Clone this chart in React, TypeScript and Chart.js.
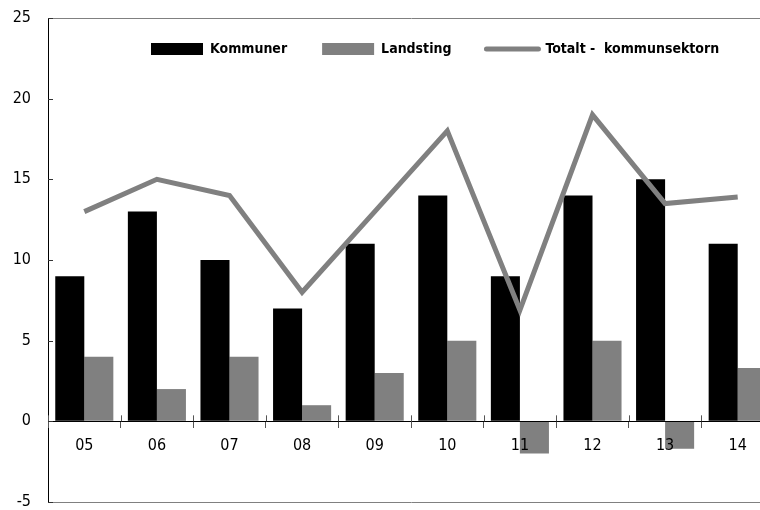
import React, { useEffect, useRef } from 'react';
import { Chart, registerables } from 'chart.js';

Chart.register(...registerables);

const categories = ['05', '06', '07', '08', '09', '10', '11', '12', '13', '14'];
const kommuner = [9, 13, 10, 7, 11, 14, 9, 14, 15, 11];
const landsting = [4, 2, 4, 1, 3, 5, -2, 5, -1.7, 3.3];
const totalt = [13, 15, 14, 8, 13, 18, 6.9, 19, 13.5, 13.9];
const seriesNames = ['Kommuner', 'Landsting', 'Totalt -  kommunsektorn'];
const yMin = -5;
const yMax = 25;
const yStep = 5;

const FONT = "'DejaVu Sans Condensed', 'Liberation Sans Narrow', sans-serif";
const BLACK = '#000000';
const GRAY = '#808080';
const LEGEND_FS = 14;
const TICK_FS = 16;

const legendMover = {
  id: 'legendMover',
  afterLayout(chart: any) {
    const lg = chart.legend;
    if (!lg) return;
    const pad = lg.options.labels.padding;
    const top = 49 - pad - LEGEND_FS / 2;
    const left = 151 - pad;
    const w = lg.right - lg.left;
    lg.top = top;
    lg.bottom = top + 90;
    lg.height = 90;
    lg.left = left;
    lg.right = left + w;
  },
};

const extraTicks = {
  id: 'extraTicks',
  afterDraw(chart: any) {
    const x = chart.scales.x;
    const y = chart.scales.y;
    const ctx = chart.ctx;
    const y0 = y.getPixelForValue(0);
    const half = (x.getPixelForValue(1) - x.getPixelForValue(0)) / 2;
    ctx.save();
    ctx.strokeStyle = '#555555';
    ctx.lineWidth = 1;
    for (let i = 0; i <= categories.length; i++) {
      const px = Math.round(x.getPixelForValue(i) - half) + 0.5;
      ctx.beginPath();
      ctx.moveTo(px, y0 - 6);
      ctx.lineTo(px, y0);
      ctx.stroke();
    }
    ctx.strokeStyle = '#333333';
    for (const t of y.ticks) {
      const py = Math.round(y.getPixelForValue(t.value)) + 0.5;
      ctx.beginPath();
      ctx.moveTo(chart.chartArea.left, py);
      ctx.lineTo(chart.chartArea.left + 5, py);
      ctx.stroke();
    }
    ctx.restore();
  },
};

export default function App() {
  const ref = useRef<HTMLCanvasElement>(null);

  useEffect(() => {
    if (!ref.current) return;
    const chart = new Chart(ref.current, {
      type: 'bar',
      data: {
        labels: categories,
        datasets: [
          {
            type: 'line',
            label: seriesNames[2],
            data: totalt,
            borderColor: GRAY,
            backgroundColor: GRAY,
            borderWidth: 5,
            pointRadius: 0,
            tension: 0,
            fill: false,
            order: 0,
          } as any,
          {
            label: seriesNames[0],
            data: kommuner,
            backgroundColor: BLACK,
            borderWidth: 0,
            categoryPercentage: 0.8,
            barPercentage: 1.0,
            order: 1,
          },
          {
            label: seriesNames[1],
            data: landsting,
            backgroundColor: GRAY,
            borderWidth: 0,
            categoryPercentage: 0.8,
            barPercentage: 1.0,
            order: 1,
          },
        ],
      },
      options: {
        animation: false,
        responsive: false,
        layout: { padding: { left: 0, right: 6, top: 0, bottom: 8 } },
        plugins: {
          tooltip: { enabled: false },
          legend: {
            display: true,
            position: 'top',
            align: 'start',
            maxHeight: 18,
            labels: {
              usePointStyle: true,
              pointStyleWidth: 52,
              boxHeight: 12,
              padding: 35,
              color: BLACK,
              font: { family: FONT, size: LEGEND_FS, weight: 'bold' },
              generateLabels: () => [
                { text: seriesNames[0], fillStyle: BLACK, strokeStyle: BLACK, lineWidth: 0, pointStyle: 'rect', datasetIndex: 1, hidden: false },
                { text: seriesNames[1], fillStyle: GRAY, strokeStyle: GRAY, lineWidth: 0, pointStyle: 'rect', datasetIndex: 2, hidden: false },
                { text: seriesNames[2], fillStyle: GRAY, strokeStyle: GRAY, lineWidth: 5, lineCap: 'round', pointStyle: 'line', datasetIndex: 0, hidden: false },
              ] as any,
            },
          } as any,
        },
        scales: {
          x: {
            type: 'category',
            position: { y: 0 } as any,
            offset: true,
            grid: { offset: true, drawOnChartArea: false, drawTicks: true, tickLength: 6, color: '#555555', lineWidth: 1, z: 1 },
            border: { display: true, color: BLACK, width: 1, z: 1 },
            ticks: { z: 1, font: { family: FONT, size: TICK_FS, lineHeight: 1 }, color: BLACK, padding: 11, maxRotation: 0, autoSkip: false },
            afterFit: (s: any) => {
              s.height = 0;
            },
          },
          y: {
            min: yMin,
            max: yMax,
            ticks: { stepSize: yStep, padding: 0, font: { family: FONT, size: TICK_FS, lineHeight: 1 }, color: BLACK },
            grid: {
              drawTicks: true,
              tickLength: 17,
              tickColor: 'rgba(0,0,0,0)',
              lineWidth: 1,
              color: (c: any) => (c.tick && (c.tick.value === yMax || c.tick.value === yMin) ? GRAY : 'rgba(0,0,0,0)'),
            },
            border: { display: true, color: BLACK, width: 1 },
            afterFit: (s: any) => {
              s.width = 48;
            },
          },
        },
      },
      plugins: [legendMover, extraTicks],
    });
    return () => chart.destroy();
  }, []);

  return (
    <div style={{ position: 'absolute', left: 0, top: 0, width: 760, height: 510, overflow: 'hidden', background: '#fff' }}>
      <canvas ref={ref} width={780} height={510} style={{ display: 'block' }} />
    </div>
  );
}
